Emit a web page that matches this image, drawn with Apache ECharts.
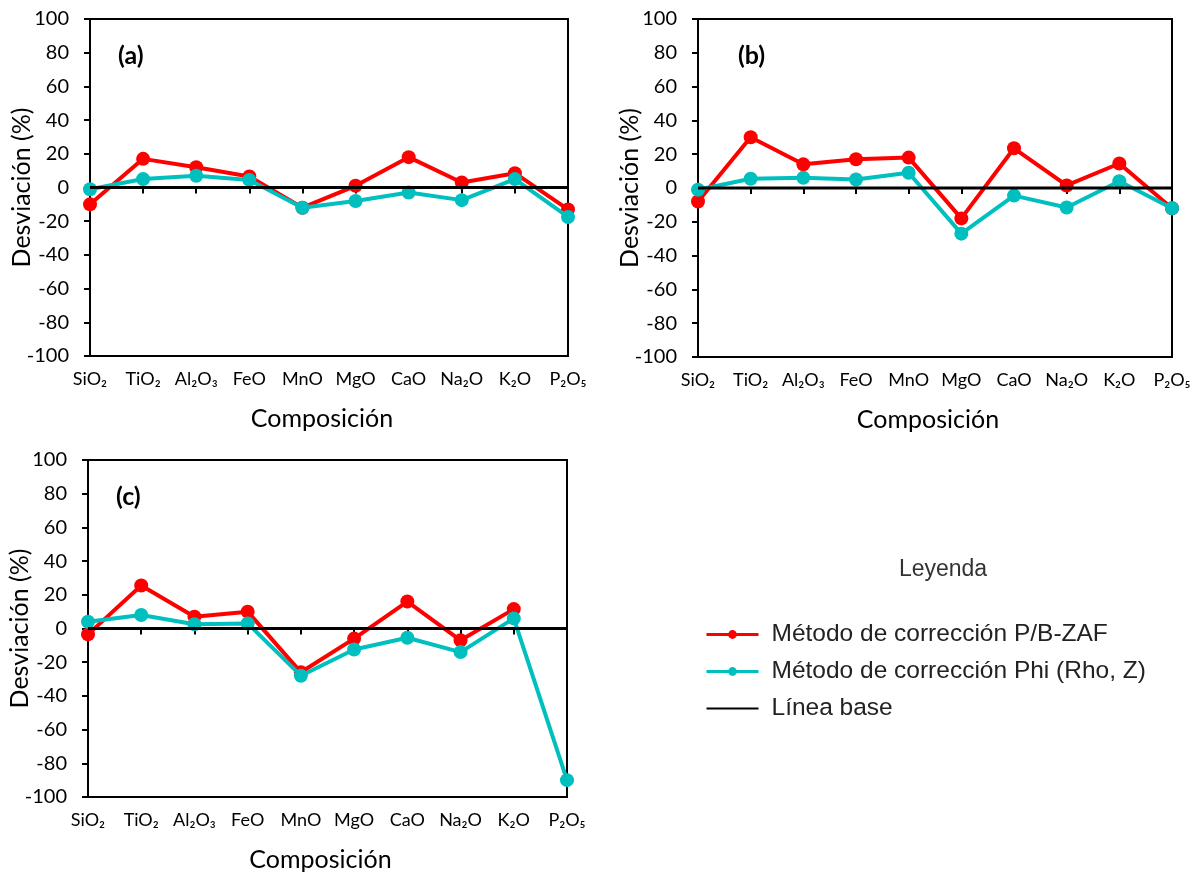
<!DOCTYPE html>
<html>
<head>
<meta charset="utf-8">
<script src="https://cdn.jsdelivr.net/npm/echarts@6/dist/echarts.min.js"></script>
<style>
  html, body { margin: 0; padding: 0; background: #fff; }
  #chart { width: 1200px; height: 875px; }
</style>
</head>
<body>
<div id="chart"></div>
<script>
// Oxide categories along the x axis
const categories = ['SiO₂', 'TiO₂', 'Al₂O₃', 'FeO', 'MnO', 'MgO', 'CaO', 'Na₂O', 'K₂O', 'P₂O₅'];

// Deviation (%) for each correction method, panel (a)
const pbZafA = [-10, 17, 12, 6.5, -12, 1, 18, 3, 8.5, -13];
const phiA   = [-1, 5, 7, 4.5, -12, -8, -3, -7.5, 5, -17.5];

// Panel (b)
const pbZafB = [-8, 30, 14, 17, 18, -18, 23.5, 1.5, 14.5, -12];
const phiB   = [-1, 5.5, 6, 5, 9, -27, -4.5, -11.5, 4, -12];

// Panel (c): no P/B-ZAF value for P₂O₅
const pbZafC = [-3.5, 25.5, 7, 10, -26, -6, 16, -7, 11.5, null];
const phiC   = [4, 8, 2.5, 3, -28, -12.5, -5.5, -14, 6, -90];

// Zero reference line
const baseline = [0, 0, 0, 0, 0, 0, 0, 0, 0, 0];

const panelLabels = ['(a)', '(b)', '(c)'];
const yTicks = { min: -100, max: 100, interval: 20 };

const NAME_PB = 'Método de corrección P/B-ZAF';
const NAME_PHI = 'Método de corrección Phi (Rho, Z)';
const NAME_BASE = 'Línea base';

const RED = '#FF0000';
const CYAN = '#00BFBF';
const FONT = 'Lato, "Noto Sans", sans-serif';
const LEGEND_FONT = '"Liberation Sans", Arial, sans-serif';

const grids = [
  { left: 90, top: 19, width: 478, height: 337 },
  { left: 698, top: 19, width: 474, height: 338 },
  { left: 88, top: 460, width: 479, height: 337 }
];

const panels = [
  { pb: pbZafA, phi: phiA },
  { pb: pbZafB, phi: phiB },
  { pb: pbZafC, phi: phiC }
];

const axisLineStyle = { color: '#000', width: 2 };

const option = {
  animation: false,
  backgroundColor: '#fff',
  title: {
    text: 'Leyenda',
    left: 938,
    top: 553,
    textAlign: 'center',
    textStyle: { fontFamily: LEGEND_FONT, fontSize: 23, fontWeight: 'normal', color: '#333' }
  },
  legend: {
    orient: 'vertical',
    left: 700,
    top: 617,
    itemWidth: 52,
    itemHeight: 11,
    itemGap: 12,
    data: [
      { name: NAME_PB },
      { name: NAME_PHI },
      { name: NAME_BASE, itemStyle: { opacity: 0 }, lineStyle: { width: 2 } }
    ],
    lineStyle: { width: 3 },
    textStyle: {
      fontFamily: LEGEND_FONT,
      fontSize: 24.5,
      color: '#222',
      padding: [0, 0, 0, 8]
    }
  },
  grid: grids.map(g => Object.assign({
    show: true,
    borderColor: '#000',
    borderWidth: 2,
    backgroundColor: 'transparent',
    containLabel: false,
    outerBoundsMode: 'none'
  }, g)),
  xAxis: grids.map((g, i) => ({
    type: 'category',
    gridIndex: i,
    data: categories,
    boundaryGap: false,
    name: 'Composición',
    nameLocation: 'middle',
    nameGap: 50,
    nameMoveOverlap: false,
    nameTextStyle: { fontFamily: FONT, fontSize: 25, color: '#000', padding: [0, 14, 0, 0] },
    axisLine: { lineStyle: axisLineStyle },
    axisTick: { show: true, length: 6, lineStyle: axisLineStyle, alignWithLabel: true },
    axisLabel: { fontFamily: FONT, fontSize: 18, color: '#000', margin: 14, interval: 0 },
    splitLine: { show: false }
  })),
  yAxis: grids.map((g, i) => ({
    type: 'value',
    gridIndex: i,
    min: yTicks.min,
    max: yTicks.max,
    interval: yTicks.interval,
    name: 'Desviación (%)',
    nameLocation: 'middle',
    nameGap: 56,
    nameMoveOverlap: false,
    nameTextStyle: { fontFamily: FONT, fontSize: 25, color: '#000' },
    axisLine: { show: true, lineStyle: axisLineStyle },
    axisTick: { show: true, length: 6, lineStyle: axisLineStyle },
    axisLabel: { fontFamily: FONT, fontSize: 20, color: '#000', margin: 21 },
    splitLine: { show: false }
  })),
  graphic: grids.map((g, i) => ({
    type: 'text',
    left: g.left + (i === 1 ? 40 : 28),
    top: g.top + 24,
    style: { text: panelLabels[i], font: 'bold 25px ' + FONT, fill: '#000' }
  })),
  series: []
};

panels.forEach((p, i) => {
  option.series.push({
    name: NAME_PB,
    type: 'line',
    xAxisIndex: i,
    yAxisIndex: i,
    data: p.pb,
    symbol: 'circle',
    symbolSize: 14,
    itemStyle: { color: RED },
    lineStyle: { color: RED, width: 4 },
    z: 2
  });
  option.series.push({
    name: NAME_PHI,
    type: 'line',
    xAxisIndex: i,
    yAxisIndex: i,
    data: p.phi,
    symbol: 'circle',
    symbolSize: 14,
    itemStyle: { color: CYAN },
    lineStyle: { color: CYAN, width: 4 },
    z: 3
  });
  option.series.push({
    name: NAME_BASE,
    type: 'line',
    xAxisIndex: i,
    yAxisIndex: i,
    data: baseline,
    symbol: 'none',
    itemStyle: { color: '#000' },
    lineStyle: { color: '#000', width: 3 },
    z: 4
  });
});

const chart = echarts.init(document.getElementById('chart'), null, { renderer: 'canvas' });
chart.setOption(option);
</script>
</body>
</html>
